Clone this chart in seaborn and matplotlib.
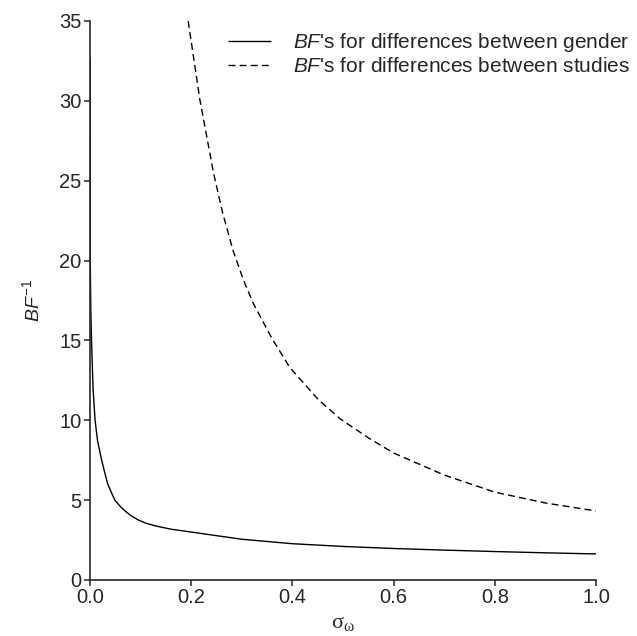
import matplotlib
matplotlib.use("Agg")
import matplotlib.pyplot as plt
import numpy as np
import pandas as pd
import seaborn as sns

# values
gender_sigma = [0.0, 0.0005, 0.0015, 0.003, 0.006, 0.01, 0.015, 0.023, 0.035,
                0.049, 0.06, 0.07, 0.08, 0.095, 0.11, 0.13, 0.16, 0.2, 0.3,
                0.4, 0.5, 0.6, 0.7, 0.8, 0.9, 1.0]
gender_bf = [32.7, 20.0, 17.0, 15.0, 12.0, 10.0, 8.7, 7.5, 6.0,
             5.0, 4.6, 4.3, 4.05, 3.76, 3.56, 3.38, 3.18, 3.0, 2.55,
             2.27, 2.1, 1.97, 1.87, 1.78, 1.7, 1.63]

studies_sigma = [0.194, 0.217, 0.244, 0.262, 0.283, 0.303, 0.323, 0.36, 0.395,
                 0.451, 0.494, 0.55, 0.6, 0.7, 0.8, 0.9, 1.0]
studies_bf = [35.0, 30.1, 25.5, 23.0, 20.6, 18.8, 17.3, 15.1, 13.3,
              11.3, 10.1, 8.9, 7.95, 6.57, 5.5, 4.82, 4.32]

label_gender = r"$\mathit{BF}$'s for differences between gender"
label_studies = r"$\mathit{BF}$'s for differences between studies"

sns.set_style("ticks")
plt.rcParams["font.family"] = ["Liberation Sans", "DejaVu Sans"]
plt.rcParams["mathtext.fontset"] = "custom"
plt.rcParams["mathtext.rm"] = "Liberation Sans"
plt.rcParams["mathtext.it"] = "Liberation Sans:italic"

df = pd.concat([
    pd.DataFrame({"sigma": gender_sigma, "bf": gender_bf, "series": label_gender}),
    pd.DataFrame({"sigma": studies_sigma, "bf": studies_bf, "series": label_studies}),
])

fig = plt.figure(figsize=(6.37, 6.36), dpi=100)
ax = fig.add_axes([0.1413, 0.0881, 0.7943, 0.8789])

sns.lineplot(data=df, x="sigma", y="bf", hue="series", style="series",
             palette=["black", "black"], dashes=[(1, 0), (5, 3)],
             linewidth=1.0, ax=ax, sort=False)

ax.set_xlim(0, 1)
ax.set_ylim(0, 35)
ax.set_xticks(np.arange(0, 1.01, 0.2))
ax.set_yticks(np.arange(0, 36, 5))
ax.set_xticklabels([f"{v:.1f}" for v in np.arange(0, 1.01, 0.2)])
ax.tick_params(labelsize=14.5, length=4, width=1.1, direction="out", pad=2)
for s in ["left", "bottom"]:
    ax.spines[s].set_linewidth(1.2)
sns.despine(ax=ax)

ax.set_xlabel(r"$\mathregular{σ_ω}$", fontsize=16, family="Liberation Serif",
              labelpad=5)
ax.set_ylabel(r"$\mathit{BF}^{\mathrm{-1}}$", fontsize=14, labelpad=12)

leg = ax.legend(loc="upper left", frameon=False, fontsize=15,
                handlelength=2.05, handletextpad=1.05, borderaxespad=0.0,
                borderpad=0.0, bbox_to_anchor=(0.2727, 0.982),
                labelspacing=0.15)

fig.savefig("out.png", dpi=100)
